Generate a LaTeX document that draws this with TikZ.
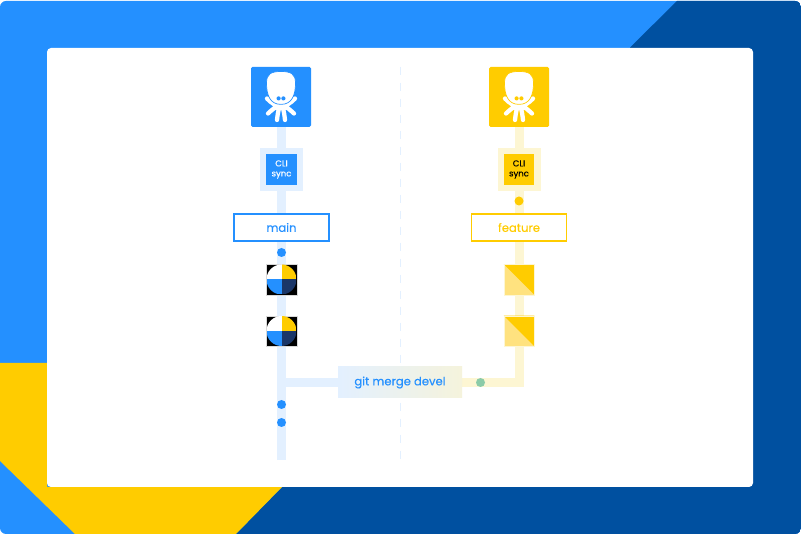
\documentclass[tikz,border=0pt]{standalone}
\usepackage{fontspec}
\setmainfont{Poppins}[FakeBold=0.2]
\usetikzlibrary{backgrounds}
\definecolor{tealblue}{HTML}{2490FF}
\definecolor{deepblue}{HTML}{0050A0}
\definecolor{navyblue}{HTML}{1A3668}
\definecolor{sunyellow}{HTML}{FFCC00}
\definecolor{softyellow}{HTML}{FFE27F}
\definecolor{railblue}{HTML}{E3F0FF}
\definecolor{railyellow}{HTML}{FDF6D3}
\definecolor{railmix}{HTML}{F5F3DC}
\definecolor{mergegreen}{HTML}{8CCBA8}
\tikzset{
  pics/octopus/.style={code={
    \draw[white,line width=4.3pt,line cap=round]
      (-14,1.5) .. controls (-10,6) and (-5,9) .. (0,9) .. controls (5,9) and (10,6) .. (14,1.5)
      (0,9) .. controls (-6,9) and (-10,14) .. (-13,16.5)
      (0,9) .. controls (6,9) and (10,14) .. (13,16.5)
      (-1,9) .. controls (-3,13) and (-3.5,19) .. (-4,23)
      (1,9) .. controls (3,13) and (3.5,19) .. (4,23);
    \draw[fill=white,draw=#1,line width=.7pt]
      (0,-25.5) .. controls (-10,-25.5) and (-14.5,-23) .. (-14.5,-14) .. controls (-14.5,-2) and (-11,7.4) .. (0,7.4)
      .. controls (11,7.4) and (14.5,-2) .. (14.5,-14) .. controls (14.5,-23) and (10,-25.5) .. (0,-25.5) -- cycle;
    \fill[#1] (-2.4,1.4) circle (2.1) (2.4,1.4) circle (2.1);
  }},
  pics/quarters/.style={code={
    \clip (0,0) circle (15);
    \fill[white] (-15,-15) rectangle (0,0);
    \fill[sunyellow] (0,-15) rectangle (15,0);
    \fill[tealblue] (-15,0) rectangle (0,15);
    \fill[navyblue] (0,0) rectangle (15,15);
  }},
  icon/.style={rectangle,rounded corners=1.5pt,minimum size=60pt,inner sep=0pt,fill=#1},
  cliouter/.style={rectangle,minimum size=43pt,inner sep=0pt,fill=#1},
  cliinner/.style={rectangle,minimum size=30.5pt,inner sep=0pt,fill=#1,font=\fontsize{8.5}{10}\selectfont,align=center},
  branch/.style={rectangle,draw=#1,line width=1.8pt,fill=white,text=#1,minimum width=95pt,minimum height=27.5pt,inner sep=0pt,font=\fontsize{11.6}{13}\selectfont},
  dot/.style={circle,minimum size=9pt,inner sep=0pt,fill=#1},
  commitmain/.style={rectangle,minimum size=30.5pt,inner sep=0pt,fill=black,draw=black!15,line width=.3pt},
  commitfeature/.style={rectangle,minimum size=30.5pt,inner sep=0pt,fill=softyellow,draw=railyellow,line width=.3pt,path picture={
    \fill[sunyellow] (path picture bounding box.north west) -- (path picture bounding box.north east) -- (path picture bounding box.south east) -- cycle;
  }},
  rail/.style={line width=9pt,draw=#1,line join=miter}
}
\begin{document}
\begin{tikzpicture}[x=1pt,y=-1pt]
  \useasboundingbox (0,0) rectangle (801,534);
  \begin{scope}[on background layer]
    \begin{scope}
      \clip[rounded corners=6pt] (0,1) rectangle (801,534);
      \fill[tealblue] (0,0) rectangle (801,534);
      \fill[deepblue] (677,1) -- (801,1) -- (801,534) -- (236,534) -- (282,487) -- (630,487) -- (630,47.5) -- cycle;
      \fill[sunyellow] (0,363) -- (47,363) -- (47,487) -- (282,487) -- (236,534) -- (75,534) -- (0,461) -- cycle;
    \end{scope}
    \fill[white,rounded corners=4pt] (47,48) rectangle (753,487);
    \draw[railblue,line width=.9pt,dash pattern=on 8pt off 8pt] (400.5,67) -- (400.5,460);
  \end{scope}

  % main branch
  \node[icon=tealblue] (iconmain) at (281,97) {};
  \pic at (iconmain.center) {octopus=tealblue};
  \node[cliouter=railblue] (climainouter) at (281.5,169.5) {};
  \node[cliinner=tealblue,text=white] (climain) at (281.5,169.5) {CLI\\sync};
  \node[branch=tealblue] (branchmain) at (281.5,227.5) {main};
  \node[dot=tealblue] (dotmain) at (281.5,252.5) {};
  \node[commitmain] (commitmaina) at (281.5,279.5) {};
  \pic at (commitmaina.center) {quarters};
  \node[commitmain] (commitmainb) at (281.5,331) {};
  \pic at (commitmainb.center) {quarters};
  \node[dot=tealblue] (dotmaina) at (281.5,404.5) {};
  \node[dot=tealblue] (dotmainb) at (281.5,422.5) {};
  \coordinate (railmainend) at (281.5,460);
  \coordinate (railmainjoin) at (281.5,382.5);

  % feature branch
  \node[icon=sunyellow] (iconfeature) at (519,97) {};
  \pic at (iconfeature.center) {octopus=sunyellow};
  \node[cliouter=railyellow] (clifeatureouter) at (519,169.5) {};
  \node[cliinner=sunyellow,text=black] (clifeature) at (519,169.5) {CLI\\sync};
  \node[dot=sunyellow] (dotfeature) at (519,201) {};
  \node[branch=sunyellow] (branchfeature) at (519,227.5) {feature};
  \node[commitfeature] (commitfeaturea) at (519,279.5) {};
  \node[commitfeature] (commitfeatureb) at (519,331) {};
  \coordinate (railfeaturejoin) at (519,382.5);

  % merge
  \node[rectangle,left color=railblue,right color=railmix,minimum width=124pt,minimum height=31pt,inner sep=0pt,text=tealblue,font=\fontsize{11.6}{13}\selectfont] (mergebox) at (400,382.5) {git merge devel};
  \node[dot=mergegreen] (dotmerge) at (480.5,382.5) {};

  \begin{scope}[on background layer]
    \draw[rail=railblue] (281.5,127) -- (railmainend);
    \draw[rail=railblue] (railmainjoin) -- (mergebox);
    \draw[rail=railyellow] (mergebox) -- (railfeaturejoin) -- (iconfeature.south -| railfeaturejoin);
  \end{scope}
\end{tikzpicture}
\end{document}
